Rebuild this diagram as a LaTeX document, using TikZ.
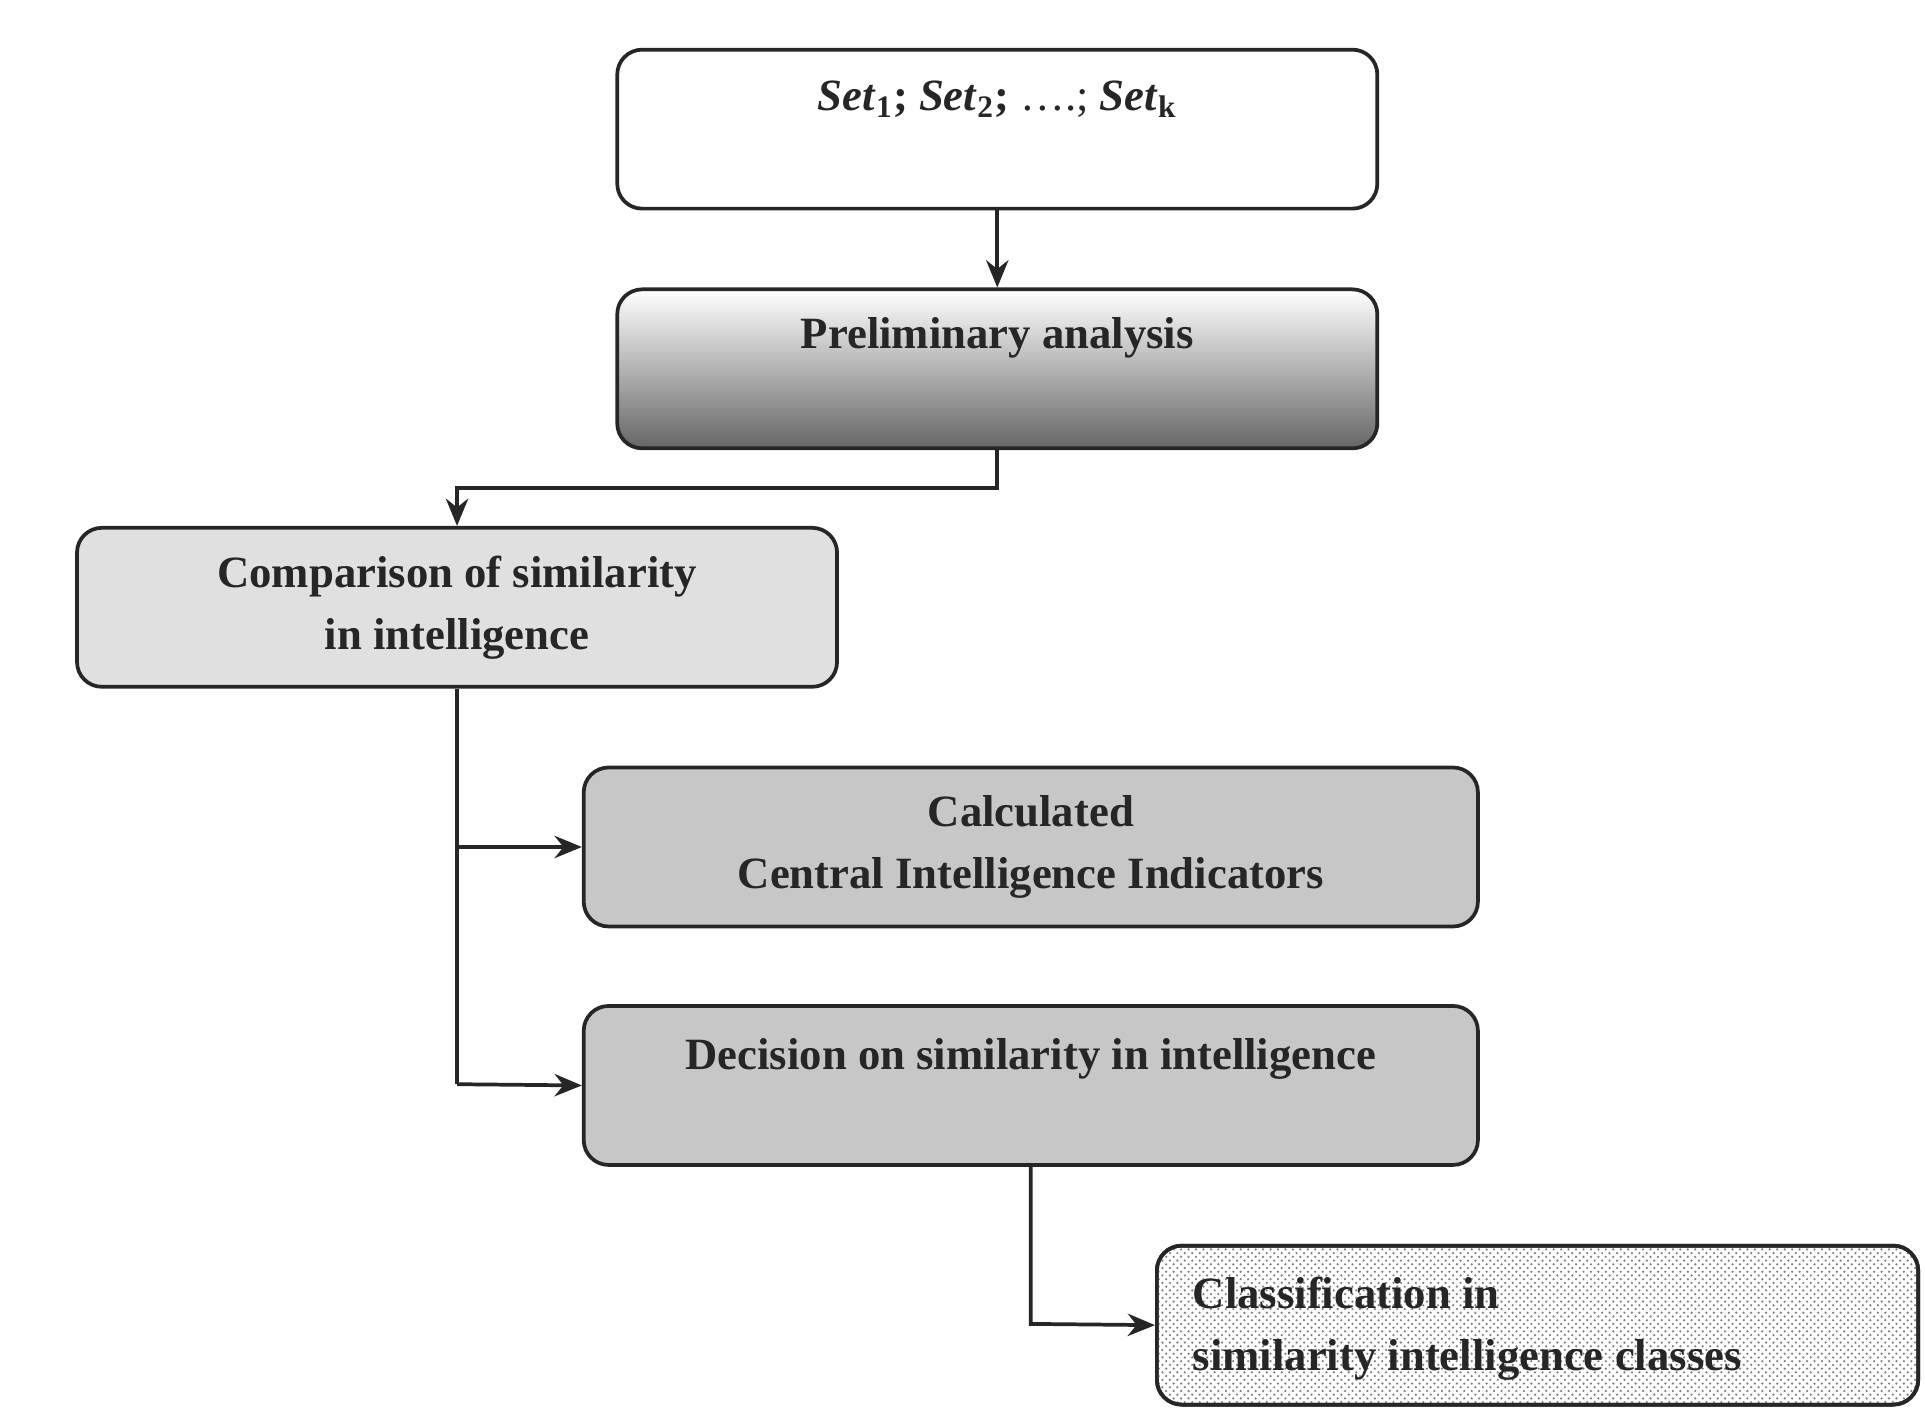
\documentclass[tikz,border=0pt]{standalone}
\usepackage{fontspec}
\setmainfont{Liberation Serif}
\usetikzlibrary{patterns,arrows.meta}
\begin{document}
\begin{tikzpicture}[x=0.5pt,y=0.5pt,
  box/.style={draw=black!85,line width=1.5pt,rounded corners=10pt,minimum height=64pt},
  txt/.style={font=\fontsize{18}{25}\selectfont\bfseries,align=center,text=black!85,inner sep=0pt},
  arr/.style={draw=black!85,line width=1.5pt,-{Stealth[length=11pt,width=9pt]}},
  ln/.style={draw=black!85,line width=1.5pt}]
\useasboundingbox (0,0) rectangle (1550,1135);
\node[box,fill=white,minimum width=306pt] (set) at (803,1031) {};
\node[txt] (settxt) at (803,1055) {\textit{Set}\textsubscript{1}; \textit{Set}\textsubscript{2}; \textmd{….;} \textit{Set}\textsubscript{k}};
\node[box,top color=white,bottom color=black!60,minimum width=306pt] (pre) at (803,838) {};
\node[txt] (pretxt) at (803,863) {Preliminary analysis};
\node[box,fill=black!12,minimum width=306pt] (cmp) at (368,646) {};
\node[txt] (cmptxt) at (368,646) {Comparison of similarity\\in intelligence};
\node[box,fill=black!22,minimum width=360pt] (calc) at (830,453) {};
\node[txt] (calctxt) at (830,453) {Calculated\\Central Intelligence Indicators};
\node[box,fill=black!22,minimum width=360pt] (dec) at (830,261) {};
\node[txt] (dectxt) at (830,282) {Decision on similarity in intelligence};
\node[box,fill=white,minimum width=306.5pt] (clsbg) at (1238,68) {};
\node[box,pattern=crosshatch dots,pattern color=black!50,minimum width=306.5pt] (cls) at (1238,68) {};
\node[txt,align=left,anchor=west] (clstxt) at (960,65) {Classification in\\similarity intelligence classes};
\draw[arr] (set.south) -- (pre.north);
\draw[arr] (pre.south) -- (803,742) -- (368,742) -- (cmp.north);
\coordinate (j1) at (368,453);
\coordinate (j2) at (368,262);
\draw[ln] (cmp.south) -- (j2);
\draw[arr] (j1) -- (calc.west);
\draw[arr] (j2) -- (dec.west);
\draw[arr] (dec.south) -- (830,69) -- (cls.west);
\end{tikzpicture}
\end{document}
